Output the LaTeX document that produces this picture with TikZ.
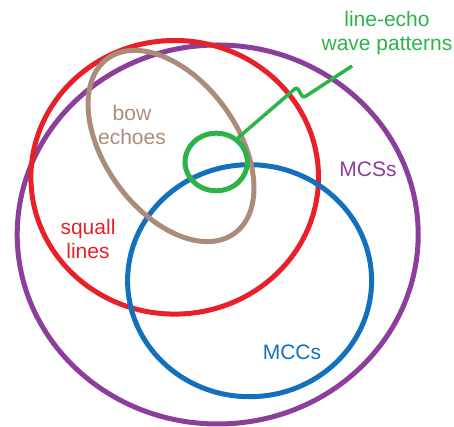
\documentclass[tikz,border=0pt]{standalone}
\usepackage{fontspec}
\setmainfont{Liberation Sans}
\usetikzlibrary{shapes.geometric}
\definecolor{mcspurple}{RGB}{139,62,154}
\definecolor{sqred}{RGB}{232,32,42}
\definecolor{mccblue}{RGB}{18,112,189}
\definecolor{bowbrown}{RGB}{171,140,123}
\definecolor{lewgreen}{RGB}{44,179,74}
\tikzset{
  ring/.style={line width=5pt},
  lbl/.style={align=center,inner sep=0pt,font=\fontsize{21}{24}\selectfont}
}
\begin{document}
\begin{tikzpicture}[x=1pt,y=1pt]
\useasboundingbox (0,0) rectangle (454,427);
\draw[ring,color=mcspurple] (217.7,192.5) ellipse [x radius=200.5,y radius=189.5];
\draw[ring,color=sqred] (174.7,249.7) ellipse [x radius=143.8,y radius=136.8];
\draw[ring,color=mccblue] (249.6,146.3) ellipse [x radius=122,y radius=116];
\draw[ring,color=bowbrown,rotate around={-54:(171,281)}] (171,281) ellipse [x radius=108,y radius=66];
\node[ring,draw=lewgreen,ellipse,inner sep=0pt,minimum width=62.4pt,minimum height=57.6pt] (lew) at (216.2,265) {};
\coordinate (lewend) at (352,361);
\draw[ring,line width=3.5pt,color=lewgreen,rounded corners=3pt] (lew.48) -- (297,340) -- (303,329) -- (lewend);
\node[lbl,text=lewgreen] (lewlabel) at (387,394) {line-echo\\wave patterns};
\node[lbl,text=bowbrown] (bowlabel) at (132,302) {bow\\echoes};
\node[lbl,text=sqred] (sqlabel) at (88,188.5) {squall\\lines};
\node[lbl,text=mcspurple] (mcslabel) at (368,258) {MCSs};
\node[lbl,text=mccblue] (mcclabel) at (292,75) {MCCs};
\end{tikzpicture}
\end{document}
